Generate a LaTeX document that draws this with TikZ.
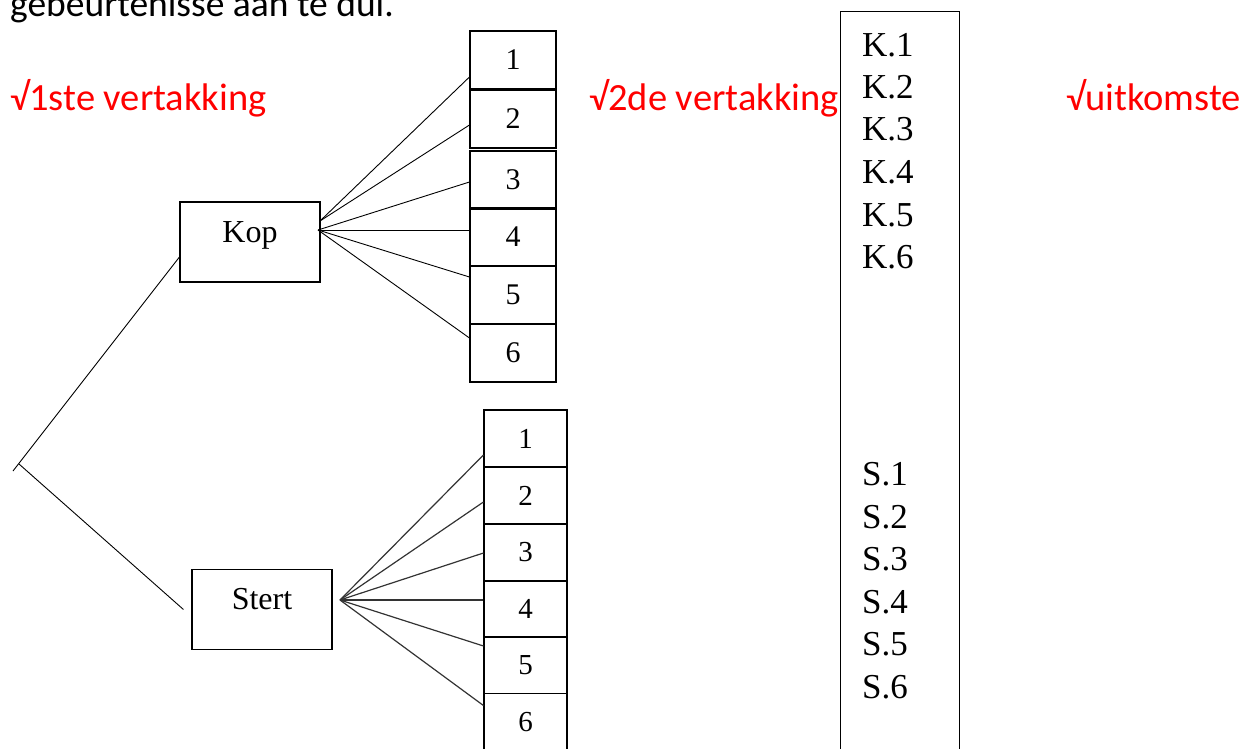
\documentclass[tikz,border=0pt]{standalone}
\usepackage{fontspec}
\setmainfont{Liberation Serif}
\newfontfamily\calfont{Carlito}
\usetikzlibrary{calc}
\begin{document}
\begin{tikzpicture}[x=1pt,y=-1pt,
  box/.style={draw, line width=1.1pt, inner sep=0pt},
  numbox/.style={box, minimum width=86pt, minimum height=58pt, font=\fontsize{30}{30}\selectfont},
  lownum/.style={box, minimum width=83pt, minimum height=57pt, font=\fontsize{29}{29}\selectfont},
  mainbox/.style={box, minimum width=140pt, minimum height=80pt, text height=22pt, text depth=22pt, font=\fontsize{32}{32}\selectfont},
  redlbl/.style={anchor=base west, inner sep=0pt, text=red, font=\calfont\fontsize{38.5}{44}\selectfont},
  outc/.style={anchor=base west, inner sep=0pt, font=\fontsize{35}{40}\selectfont},
  conn/.style={line width=0.9pt},
  connb/.style={line width=1.2pt, black!80}
]
\useasboundingbox (0,0) rectangle (1256,749);

% heading fragment (cut off at the top, as in the source)
\node[anchor=base west, inner sep=0pt, font=\calfont\fontsize{37.5}{44}\selectfont] (head) at (10,16.5) {gebeurtenisse aan te dui.};

% red labels
\node[redlbl] (l1) at (10,111) {√1ste vertakking};
\node[redlbl] (l2) at (589,111) {√2de vertakking};
\node[redlbl] (l3) at (1066,111) {√uitkomste};

% first branch boxes
\node[mainbox] (kop) at (250,242) {Kop};
\node[mainbox] (stert) at (262,609.5) {Stert};

% second branch boxes (Kop)
\node[numbox] (t1) at (513,60) {1};
\node[numbox] (t2) at (513,119) {2};
\node[numbox] (t3) at (513,180) {3};
\node[numbox] (t4) at (513,237) {4};
\node[numbox] (t5) at (513,295) {5};
\node[numbox] (t6) at (513,353) {6};

% second branch boxes (Stert)
\node[lownum] (b1) at (525.5,438.5) {1};
\node[lownum] (b2) at (525.5,495.5) {2};
\node[lownum] (b3) at (525.5,552.5) {3};
\node[lownum] (b4) at (525.5,609) {4};
\node[lownum] (b5) at (525.5,665) {5};
\node[lownum] (b6) at (525.5,722) {6};

% outcome column
\node[box, minimum width=119pt, minimum height=760pt, anchor=north west] (col) at (840,11) {};
\node[outc] (k1) at (862,57) {K.1};
\node[outc] (k2) at (862,99) {K.2};
\node[outc] (k3) at (862,141) {K.3};
\node[outc] (k4) at (862,183) {K.4};
\node[outc] (k5) at (862,226) {K.5};
\node[outc] (k6) at (862,268) {K.6};
\node[outc] (s1) at (862,485) {S.1};
\node[outc] (s2) at (862,528) {S.2};
\node[outc] (s3) at (862,570) {S.3};
\node[outc] (s4) at (862,613) {S.4};
\node[outc] (s5) at (862,655) {S.5};
\node[outc] (s6) at (862,698) {S.6};

% tree root
\coordinate (root) at (19,464);
\coordinate (tick) at (13,471);
\coordinate (kA) at (320,221);
\coordinate (kB) at (318,230);
\coordinate (sA) at (340,600);

\draw[conn] (tick) -- ([yshift=-15pt]kop.west);
\draw[conn] (root) -- ([xshift=-8pt]stert.west);

\draw[conn] (kA) -- ([yshift=-17pt]t1.west);
\draw[conn] (kA) -- ([yshift=-6pt]t2.west);
\draw[conn] (kB) -- ([yshift=-2pt]t3.west);
\draw[conn] (kB) -- ([yshift=7pt]t4.west);
\draw[conn] (kB) -- ([yshift=18pt]t5.west);
\draw[conn] (kB) -- ([yshift=15pt]t6.west);

\draw[connb] (sA) -- ([yshift=-16.5pt]b1.west);
\draw[connb] (sA) -- ([yshift=-6.5pt]b2.west);
\draw[connb] (sA) -- ([yshift=-0.5pt]b3.west);
\draw[connb] (sA) -- ([yshift=9pt]b4.west);
\draw[connb] (sA) -- ([yshift=19pt]b5.west);
\draw[connb] (sA) -- ([yshift=16.5pt]b6.west);
\end{tikzpicture}
\end{document}
